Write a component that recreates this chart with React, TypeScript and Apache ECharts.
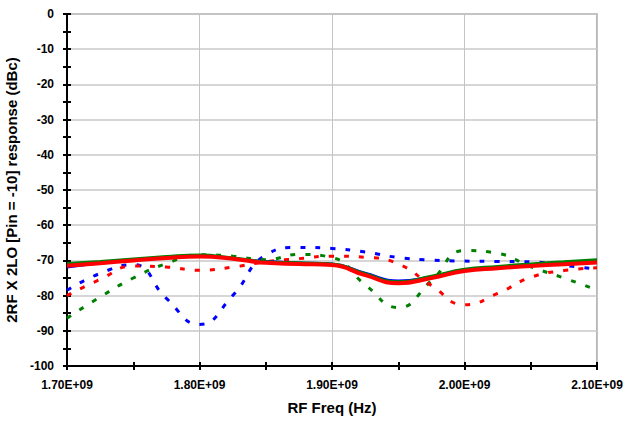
import React, { useEffect, useRef } from "react";
import * as echarts from "echarts";

const freqHz = [
  1.7e9, 1.725e9, 1.75e9, 1.775e9, 1.8e9, 1.825e9, 1.85e9, 1.875e9, 1.9e9,
  1.925e9, 1.95e9, 1.975e9, 2.0e9, 2.025e9, 2.05e9, 2.075e9, 2.1e9,
];

const solidBlue = [-72.0, -70.8, -69.7, -69.0, -68.8, -69.4, -70.2, -70.6, -70.9, -73.5, -75.7, -74.6, -72.8, -72.0, -71.3, -70.7, -70.1];
const solidGreen = [-70.9, -70.3, -69.6, -68.9, -68.5, -69.3, -70.4, -70.7, -71.0, -73.8, -76.1, -74.5, -72.5, -71.7, -71.0, -70.4, -69.8];
const solidRed = [-71.5, -70.8, -70.0, -69.3, -68.9, -69.5, -70.7, -71.0, -71.3, -74.2, -76.5, -75.0, -73.0, -72.2, -71.6, -71.1, -70.6];

const dashBlue = [-78.5, -73.7, -71.2, -80.8, -88.2, -80.0, -68.5, -66.3, -66.6, -67.6, -69.2, -69.9, -70.2, -70.3, -70.4, -71.4, -72.5];
const dashGreen = [-86.4, -80.4, -75.0, -70.9, -68.4, -68.8, -69.8, -68.3, -69.2, -76.9, -83.4, -75.8, -67.2, -68.0, -71.8, -75.0, -78.4];
const dashRed = [-80.0, -75.4, -71.6, -71.9, -72.8, -71.9, -70.4, -69.5, -68.8, -69.1, -71.0, -77.1, -82.6, -79.4, -74.8, -72.9, -72.1];

const xMin = 1.7e9;
const xMax = 2.1e9;
const yMin = -100;
const yMax = 0;

const FONT = "Liberation Sans, Arial, sans-serif";

const pairs = (vals: number[]) => freqHz.map((f, i) => [f, vals[i]]);

export default function App() {
  const ref = useRef<HTMLDivElement>(null);
  useEffect(() => {
    if (!ref.current) return;
    const chart = echarts.init(ref.current, undefined, { renderer: "svg" });
    const labelStyle = { fontFamily: FONT, fontWeight: "bold" as const, fontSize: 12, color: "#000" };
    const tickAxisX = (inside: boolean) => ({
      type: "value",
      position: "bottom",
      min: xMin,
      max: xMax,
      interval: 5e7,
      axisLine: { show: false, onZero: false },
      axisTick: { show: true, inside, length: 4, lineStyle: { color: "#000", width: 2 } },
      axisLabel: { show: false },
      splitLine: { show: false },
    });
    const tickAxisY = (inside: boolean) => ({
      type: "value",
      position: "left",
      min: yMin,
      max: yMax,
      interval: 5,
      axisLine: { show: false, onZero: false },
      axisTick: { show: true, inside, length: 4, lineStyle: { color: "#000", width: 2 } },
      axisLabel: { show: false },
      splitLine: { show: false },
    });
    const solid = (vals: number[], color: string, width: number) => ({
      type: "line",
      data: pairs(vals),
      smooth: 0.5,
      showSymbol: false,
      symbol: "none",
      lineStyle: { color, width },
      itemStyle: { color },
      xAxisIndex: 0,
      yAxisIndex: 0,
    });
    const dashed = (vals: number[], color: string) => ({
      type: "line",
      data: pairs(vals),
      smooth: 0.5,
      showSymbol: false,
      symbol: "none",
      lineStyle: { color, width: 3, type: [5, 10] },
      itemStyle: { color },
      xAxisIndex: 0,
      yAxisIndex: 0,
    });
    chart.setOption({
      animation: false,
      backgroundColor: "#fff",
      grid: {
        left: 67,
        right: 29,
        top: 14,
        bottom: 55,
        containLabel: false,
        outerBoundsMode: "none",
        show: true,
        borderColor: "#a0a0a0",
        borderWidth: 1.5,
      },
      xAxis: [
        {
          type: "value",
          position: "bottom",
          min: xMin,
          max: xMax,
          interval: 1e8,
          name: "RF Freq (Hz)",
          nameLocation: "middle",
          nameGap: 34,
          nameTextStyle: { fontFamily: FONT, fontWeight: "bold", fontSize: 15, color: "#000" },
          axisLine: { show: true, onZero: false, lineStyle: { color: "#000", width: 2 } },
          axisTick: { show: false },
          axisLabel: {
            ...labelStyle,
            margin: 13,
            formatter: (v: number) => (v / 1e9).toFixed(2) + "E+09",
          },
          splitLine: { show: true, lineStyle: { color: "#c4c4c4", width: 1 } },
        },
        tickAxisX(false),
        tickAxisX(true),
      ],
      yAxis: [
        {
          type: "value",
          position: "left",
          min: yMin,
          max: yMax,
          interval: 10,
          name: "2RF X 2LO [Pin = -10] response (dBc)",
          nameLocation: "middle",
          nameGap: 44,
          nameTextStyle: { fontFamily: FONT, fontWeight: "bold", fontSize: 15, color: "#000" },
          axisLine: { show: true, onZero: false, lineStyle: { color: "#000", width: 2 } },
          axisTick: { show: false },
          axisLabel: { ...labelStyle, margin: 13 },
          splitLine: { show: true, lineStyle: { color: "#c8c8c8", width: 1.5 } },
        },
        tickAxisY(false),
        tickAxisY(true),
      ],
      series: [
        dashed(dashBlue, "#0000ff"),
        dashed(dashGreen, "#008000"),
        dashed(dashRed, "#ff0000"),
        solid(solidBlue, "#0000ff", 2),
        solid(solidGreen, "#008000", 3),
        solid(solidRed, "#ff0000", 4),
      ],
    });
    return () => chart.dispose();
  }, []);
  return (
    <div
      ref={ref}
      style={{ position: "absolute", left: 0, top: 0, width: 626, height: 421 }}
    />
  );
}
